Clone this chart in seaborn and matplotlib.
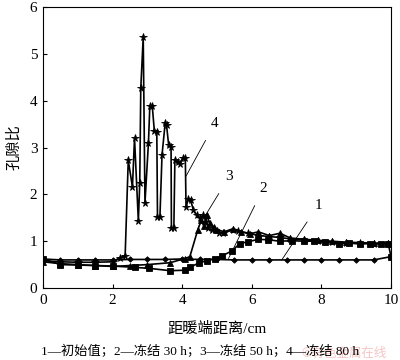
import matplotlib
matplotlib.use("Agg")
import matplotlib.pyplot as plt
import seaborn as sns
import pandas as pd

sns.set_theme(style="white")
plt.rcParams['font.family'] = ['Liberation Serif', 'Noto Sans CJK SC']

# Series data (x: distance from warm end / cm, y: void ratio)
x1 = [0.0, 0.5, 1.0, 1.5, 2.0, 2.5, 3.0, 3.5, 4.0, 4.5, 5.0, 5.5, 6.0, 6.5, 7.0, 7.5, 8.0, 8.5, 9.0, 9.5, 10.0]
y1 = [0.62, 0.6, 0.6, 0.6, 0.6, 0.61, 0.61, 0.61, 0.62, 0.61, 0.61, 0.6, 0.6, 0.6, 0.6, 0.6, 0.6, 0.6, 0.6, 0.6, 0.67]

x2 = [0.0, 0.5, 1.0, 1.5, 2.0, 2.64, 3.05, 3.65, 4.08, 4.22, 4.49, 4.7, 4.94, 5.13, 5.42, 5.66, 5.9, 6.19, 6.47,
      6.81, 7.15, 7.5, 7.8, 8.1, 8.5, 8.8, 9.1, 9.4, 9.7, 9.92, 10.0]
y2 = [0.62, 0.5, 0.49, 0.48, 0.47, 0.44, 0.42, 0.37, 0.38, 0.44, 0.54, 0.58, 0.63, 0.68, 0.79, 0.95, 0.99, 1.04, 1.03,
      1.0, 1.01, 1.0, 1.0, 0.98, 0.95, 0.96, 0.94, 0.95, 0.94, 0.95, 0.67]

x3 = [0.0, 0.5, 1.0, 1.5, 2.0, 2.5, 3.0, 3.65, 4.08, 4.22, 4.45, 4.55, 4.62, 4.7, 4.8, 4.9, 5.0, 5.2, 5.47, 5.7,
      5.95, 6.19, 6.5, 6.81, 7.1, 7.5, 7.9, 8.3, 8.7, 9.1, 9.5, 9.9]
y3 = [0.56, 0.52, 0.5, 0.48, 0.46, 0.48, 0.5, 0.54, 0.63, 0.67, 1.25, 1.45, 1.32, 1.56, 1.38, 1.3, 1.25, 1.2, 1.27, 1.2,
      1.16, 1.2, 1.12, 1.17, 1.07, 1.04, 1.02, 1.0, 0.98, 0.97, 0.96, 0.96]

x4 = [0.0, 0.5, 1.0, 1.5, 2.0, 2.21, 2.36, 2.45, 2.57, 2.63, 2.74, 2.78, 2.81, 2.88, 2.93, 3.03, 3.07, 3.14, 3.2,
      3.27, 3.29, 3.36, 3.42, 3.51, 3.55, 3.61, 3.68, 3.69, 3.76, 3.79, 3.87, 3.94, 4.01, 4.09, 4.11, 4.18, 4.24,
      4.32, 4.42, 4.51, 4.61, 4.68, 4.75, 4.85, 4.94, 5.07, 5.18, 5.47, 5.61, 5.9, 6.2, 6.5, 6.8, 7.1, 7.5, 7.9,
      8.3, 8.7, 9.1, 9.5, 9.9]
y4 = [0.58, 0.56, 0.55, 0.55, 0.56, 0.65, 0.68, 2.73, 2.16, 3.2, 1.43, 2.24, 4.27, 5.37, 1.82, 3.1, 3.89, 3.89, 3.35,
      3.34, 1.52, 1.52, 2.84, 3.52, 3.48, 3.06, 3.02, 1.28, 1.28, 2.74, 2.7, 2.66, 2.77, 2.77, 1.74, 1.9, 1.88,
      1.67, 1.55, 1.5, 1.56, 1.42, 1.28, 1.24, 1.24, 1.17, 1.18, 1.24, 1.22, 1.17, 1.12, 1.1, 1.08, 1.05, 1.03, 1.0,
      0.98, 0.97, 0.96, 0.95, 0.95]

series_labels = ["1", "2", "3", "4"]
markers = ["D", "s", "^", "*"]
msizes = [2.8, 4.5, 4.5, 5.5]

xticks = [0, 2, 4, 6, 8, 10]
yticks = [0, 1, 2, 3, 4, 5, 6]

fig = plt.figure(figsize=(4.0, 3.6), dpi=100)
ax = fig.add_axes([0.1075, 0.2, 0.87, 0.78])

for xs, ys, m, ms in zip([x1, x2, x3, x4], [y1, y2, y3, y4], markers, msizes):
    df = pd.DataFrame({"x": xs, "y": ys})
    sns.lineplot(data=df, x="x", y="y", sort=False, estimator=None, ax=ax, color="black",
                 marker=m, markersize=ms, markeredgecolor="black", markerfacecolor="black",
                 markeredgewidth=0.6, linewidth=1.2)

ax.set_xlim(0, 10)
ax.set_ylim(0, 6)
ax.set_xticks(xticks)
ax.set_yticks(yticks)
ax.tick_params(direction="in", length=3, width=0.8, labelsize=11, colors="black", pad=4,
               bottom=True, left=True, top=False, right=False)
for s in ax.spines.values():
    s.set_color("black")
    s.set_linewidth(0.8)

ax.set_xlabel("距暖端距离/cm", fontsize=11, labelpad=11, color="black")
ax.set_ylabel("孔隙比", fontsize=11, labelpad=6, color="black")

# leader-line labels
ann = [("1", (6.86, 0.6), (7.91, 1.77)),
       ("2", (5.33, 0.63), (6.33, 2.13)),
       ("3", (4.46, 1.3), (5.35, 2.38)),
       ("4", (4.11, 2.39), (4.94, 3.52))]
for lab, xy, xyt in ann:
    ax.annotate(lab, xy=xy, xytext=xyt, fontsize=11, ha="center", va="center", color="black",
                arrowprops=dict(arrowstyle="-", color="black", lw=0.6, shrinkA=6, shrinkB=0))

fig.text(0.5, 0.024, "1—初始值；2—冻结 30 h；3—冻结 50 h；4—冻结 80 h", ha="center", va="center",
         fontsize=9.5, color="black")
fig.text(0.86, 0.018, "©有色金属在线", ha="center", va="center", fontsize=9, color="#f6c4c4",
         family=['Noto Sans CJK SC', 'DejaVu Sans'], zorder=-1)

fig.savefig("out.png", dpi=100)
